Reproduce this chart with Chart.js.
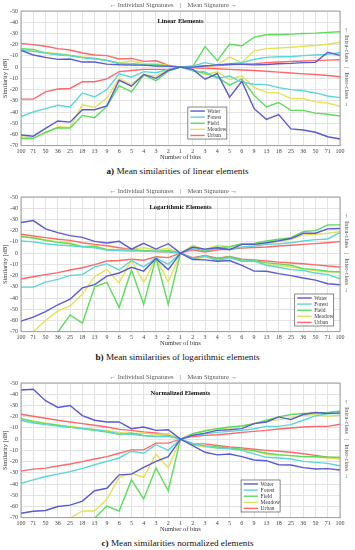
<!DOCTYPE html>
<html>
<head>
<meta charset="utf-8">
<script src="https://cdn.jsdelivr.net/npm/chart.js@4/dist/chart.umd.min.js"></script>
<style>
  body { margin: 0; background: #fff; width: 355px; height: 550px; position: relative; overflow: hidden; font-family: "Liberation Serif", serif; }
  .panel { position: absolute; left: 0; width: 355px; height: 163px; }
  .cap { position: absolute; left: 0; width: 355px; text-align: center; font-size: 9.2px; line-height: 11px; color: #111; }
</style>
</head>
<body>
<div class="panel" style="top:0"><canvas id="linChart"></canvas></div>
<div class="cap" style="top:166px"><b>a)</b> Mean similarities of linear elements</div>
<div class="panel" style="top:186px"><canvas id="logChart"></canvas></div>
<div class="cap" style="top:352px"><b>b)</b> Mean similarities of logarithmic elements</div>
<div class="panel" style="top:372px"><canvas id="normChart"></canvas></div>
<div class="cap" style="top:538px"><b>c)</b> Mean similarities normalized elements</div>
<script>
const bins = ["100", "71", "50", "36", "25", "18", "13", "9", "6", "5", "4", "3", "2", "1",
  "2", "3", "4", "5", "6", "9", "13", "18", "25", "36", "50", "71", "100"];
const classes = ["Water", "Forest", "Field", "Meadow", "Urban"];

// linear elements
const linWaterIntra = [15, 10.8, 8.7, 6.9, 7.2, 4.5, 4.5, 2.7, 2.1, 1.8, 1.8, 0.9, 0.9, 0, 0, 1, 2, 2.5, 2.5, 2, 2.4, 3, 3.3, 4, 4.2, 13.2, 10.5];
const linWaterInter = [-60.5, -61.5, -54.5, -48, -49, -38, -38, -34.5, -11.7, -17, -6.5, -10, -3, 0, -2, -10.8, -5.7, -26.7, -12.6, -37, -46.5, -42.3, -55, -56, -58, -62, -64];
const linForestIntra = [15, 14, 12.5, 11, 10, 8.5, 7.5, 6, 3, 3, 2, 1.5, 1, 0, 1, 4, 2, 3, 4, 7, 8.7, 9.3, 9.3, 10.2, 10.8, 11.4, 13];
const linForestInter = [-44, -40, -37, -34, -35.5, -23, -26.5, -20, -6, -9, -4, -5, -2, 0, -3.3, -4.2, -10, -8, -13.5, -15.3, -15.6, -18.3, -20, -21, -23, -25.7, -27.2];
const linFieldIntra = [16.5, 15.8, 12.5, 11.5, 10.5, 8.5, 7.5, 6, 3.5, 3, 2, 2.2, 1, 0, 0.5, 18.3, 5.7, 20.4, 19, 26.7, 28.8, 29, 29.4, 30, 30.3, 31, 31.5];
const linFieldInter = [-63.6, -63.6, -58, -54, -54.3, -43, -45, -35, -16.5, -22, -7, -12, -3.6, 0, -3, -5.4, -9, -16, -10.5, -25, -35.5, -31.5, -38.5, -38.5, -41, -42, -43.5];
const linMeadowIntra = [16, 14.5, 13, 12, 10.5, 9, 8, 6, 4, 5.5, 3, 3, 1.5, 0, 0.5, 0, 2, 9, 4, 14.5, 16.5, 17, 17.7, 18.6, 19.2, 20.4, 22.2];
const linMeadowInter = [-62, -63, -58.5, -53, -53.7, -33.6, -36, -27.6, -10, -15.6, -6.6, -8, -2.7, 0, -2.4, -6.6, -4.2, -11, -8, -18, -22.5, -23, -28, -28, -31, -32, -35];
const linUrbanIntra = [21, 20, 18.6, 16.5, 15.3, 12.6, 10.8, 10.2, 7.2, 7.8, 5.1, 5.7, 1.8, 0, 0.5, 1, 1.5, 2, 2.5, 3, 4, 4.5, 5, 5.5, 5.8, 6.2, 6.6];
const linUrbanInter = [-28.5, -28.5, -22, -19.5, -19, -13, -13, -10.5, -4, -3, -2, -2, -2, 0, -0.5, -1, -1.5, -2, -2.5, -3, -3.7, -4.5, -5.2, -6, -6.6, -7.4, -8.6];

// logarithmic elements
const logWaterIntra = [27.3, 29, 21.6, 18.3, 15.6, 14, 10.5, 9, 10.5, 3.6, 8.7, 3.6, 8.4, 0, 5.4, 3.6, 4.8, 3, 7.8, 7.8, 9.3, 11, 13, 17.7, 17.7, 21.6, 22];
const logWaterInter = [-60.6, -57, -52.2, -46, -41, -31, -28, -20.5, -17.7, -12.6, -16, -4.8, -14.7, 0, -5.7, -6, -7.2, -6.6, -11, -16, -16.2, -18.3, -20, -22.2, -24, -27.3, -28.2];
const logForestIntra = [10.8, 10, 8.4, 7.2, 6.6, 5.7, 4.8, 2.7, 2.4, 1.8, 1.8, 1.5, 1.2, 0, 4.2, 3, 5.4, 3.3, 5.4, 6.3, 7.8, 8.4, 9.3, 10.8, 12, 12.6, 18.3];
const logForestInter = [-30.3, -30.3, -25.8, -23.4, -19.8, -19.2, -12.3, -9.6, -15, -6.6, -12.3, -4.2, -10, 0, -5, -2.7, -6.6, -4.2, -7.2, -7.2, -10.8, -12.6, -14.7, -15.6, -17.7, -19.2, -22.8];
const logFieldIntra = [14.7, 13.5, 11.4, 9.6, 8.4, 5.7, 6, 3, 2.7, 2.7, 2.4, 1.8, 2.4, 0, 4.8, 1.8, 4.8, 5.7, 8.4, 8.7, 10.8, 12.3, 13.8, 19.2, 20, 25.2, 25.2];
const logFieldInter = [-86, -86, -80, -70.5, -55, -62.4, -30, -26, -48.5, -15, -45.6, -4.2, -45.6, 0, -4.8, -2.7, -5, -3.3, -6, -6.3, -8.7, -9.6, -10.8, -13.8, -14.7, -16.2, -16.8];
const logMeadowIntra = [15.3, 13.8, 12, 10, 9, 6, 6.3, 3.6, 3, 3.6, 4.8, 3, 4.2, 0, 7, 3, 7, 5.7, 7.8, 7.8, 8.7, 10.5, 12.3, 16, 16.8, 17.7, 19];
const logMeadowInter = [-80, -70, -60, -51.5, -47, -36.5, -21, -14.5, -26.5, -6.3, -26.2, -4.2, -25.8, 0, -5.7, -3.3, -6, -4.2, -7.2, -6.6, -10.2, -10.8, -12.3, -14.4, -15.6, -16.8, -16.5];
const logUrbanIntra = [16.8, 15.3, 13.8, 12.3, 11.4, 9.3, 7.8, 6.6, 4.8, 3.3, 1.8, 1.5, 1.2, 0, 3, 1, 3, 3.5, 4.5, 5, 5.5, 6.3, 7, 7.8, 8.5, 9.3, 10.2];
const logUrbanInter = [-23, -21, -19.2, -17.4, -15, -13, -10.2, -7, -6.6, -5.4, -6.3, -3.3, -4, 0, -4, -2, -4.5, -3, -5.5, -6, -7, -8, -8.8, -9.5, -10.5, -11.5, -12.3];

// normalized elements
const normWaterIntra = [43.8, 44.4, 34.2, 28.2, 30, 21, 16.8, 15.3, 15.3, 9.3, 10.8, 7.8, 8.4, 0, 3.3, 5.4, 7.8, 8.4, 9.3, 13.8, 15.3, 19.8, 17.4, 21.9, 23.7, 22.8, 23.4];
const normWaterInter = [-66, -64.2, -63.6, -60, -58.8, -55.2, -46, -43.8, -31.8, -31.2, -25.2, -19.8, -15.6, 0, -5.7, -11.7, -14, -13.2, -15.6, -18.6, -19.2, -22.8, -23, -25.4, -26.6, -26.3, -27.5];
const normForestIntra = [16.8, 14.4, 12.9, 11.7, 10.5, 9.6, 8.4, 6.9, 4.8, 4.2, 3, 2.4, 2.4, 0, 3.3, 4.8, 6, 6.9, 7.8, 9.3, 11.4, 11.4, 12.9, 16.8, 20.7, 22.8, 22.8];
const normForestInter = [-39.3, -36.3, -33.3, -31.2, -29, -26, -22.8, -19.8, -16.8, -10.8, -12.6, -5, -10, 0, -4, -6, -8, -8.5, -10, -13.2, -16.2, -16.8, -17.7, -19.8, -20.7, -21.6, -23.7];
const normFieldIntra = [18.3, 15.6, 13.8, 12.3, 10.8, 9.3, 7.8, 6.3, 4.2, 5.4, 3.3, 2.4, 3, 0, 4.8, 7.2, 9.3, 10.8, 11.7, 13.8, 16.8, 19.8, 21.9, 22.8, 23.4, 23.7, 25];
const normFieldInter = [-86, -86, -86, -86, -86, -80, -70.5, -59.6, -64, -36.3, -53.3, -25.7, -46, 0, -4.5, -6, -7, -7.8, -9, -10.2, -12.6, -13.8, -14.7, -15.6, -15.6, -16.2, -16.2];
const normMeadowIntra = [18.3, 16.2, 14.4, 12.6, 11.4, 10, 8.7, 7.8, 6, 4.8, 5.4, 4.2, 4.8, 0, 4.8, 7.8, 9.3, 9.9, 11.7, 13.8, 15.9, 17.4, 18.9, 21.3, 21.9, 20.4, 21.3];
const normMeadowInter = [-84, -84, -82, -77, -70.5, -64, -64, -53.6, -34, -30.5, -34, -13.5, -25.5, 0, -5, -7, -8, -8.5, -9.3, -10.5, -13.5, -14.4, -14.7, -15.6, -16.2, -16.8, -17.7];
const normUrbanIntra = [22.2, 20.4, 18.6, 16.8, 15.3, 13.8, 12.3, 10.8, 8.7, 7.8, 6.3, 5.4, 3.9, 0, 2.4, 3.3, 3.9, 4.8, 6, 6.9, 7.8, 9, 9.9, 10.8, 11.4, 11.4, 13.2];
const normUrbanInter = [-28.5, -26.7, -25.8, -24, -22.2, -20, -17.7, -15.6, -12.6, -9.6, -9.6, -3.6, -3.6, 0, -4, -4.2, -5.7, -7, -7.8, -9, -10, -10.8, -11.7, -13, -14.5, -16, -16.8];

const colors = ["#5a5ad2", "#5cd6d6", "#5cdc5c", "#e2e258", "#ff6868"];
const serif = "'Liberation Serif', 'DejaVu Serif', serif";

// header, inner title, right label, frame and legend
const deco = {
  id: "deco",
  afterDraw(chart, args, o) {
    const { ctx, chartArea: a } = chart;
    const cx = (a.left + a.right) / 2;
    const y0 = chart.scales.y.getPixelForValue(0);
    ctx.save();
    ctx.strokeStyle = "#8a8a8a";
    ctx.lineWidth = 0.8;
    ctx.strokeRect(a.left, a.top, a.right - a.left, a.bottom - a.top);

    ctx.fillStyle = "#555";
    ctx.font = "6.5px " + serif;
    ctx.textBaseline = "middle";
    ctx.textAlign = "right";
    ctx.fillText("\u2190 Individual Signatures", cx - 7, a.top - 5.5);
    ctx.textAlign = "center";
    ctx.fillText("|", cx, a.top - 5.5);
    ctx.textAlign = "left";
    ctx.fillText("Mean Signature \u2192", cx + 7, a.top - 5.5);

    ctx.save();
    ctx.translate(a.right + 7, y0);
    ctx.rotate(Math.PI / 2);
    ctx.textAlign = "right";
    ctx.fillText("\u2190 Intra-class", -5, 0);
    ctx.textAlign = "center";
    ctx.fillText("|", 0, 0);
    ctx.textAlign = "left";
    ctx.fillText("Inter-class \u2192", 5, 0);
    ctx.restore();

    ctx.fillStyle = "#111";
    ctx.font = "bold 6.5px " + serif;
    ctx.textAlign = "center";
    ctx.fillText(o.title, cx, a.top + 10);

    // legend box inside plot
    const bx = a.left + o.lx * (a.right - a.left);
    const by = a.top + o.ly * (a.bottom - a.top);
    const bw = 39, bh = 32;
    ctx.fillStyle = "#fff";
    ctx.fillRect(bx, by, bw, bh);
    ctx.strokeStyle = "#555";
    ctx.lineWidth = 0.7;
    ctx.strokeRect(bx, by, bw, bh);
    ctx.font = "5.5px " + serif;
    ctx.textAlign = "left";
    classes.forEach((c, k) => {
      const ry = by + 4 + k * 6.1;
      ctx.strokeStyle = colors[k];
      ctx.lineWidth = 1.4;
      ctx.beginPath();
      ctx.moveTo(bx + 2.5, ry);
      ctx.lineTo(bx + 17, ry);
      ctx.stroke();
      ctx.fillStyle = "#333";
      ctx.fillText(c, bx + 19.5, ry + 0.3);
    });
    ctx.restore();
  }
};

function makeChart(id, title, intra, inter, lx, ly) {
  const datasets = [];
  classes.forEach((c, k) => {
    datasets.push({ label: c, data: intra[k], borderColor: colors[k] });
    datasets.push({ label: c + " (inter)", data: inter[k], borderColor: colors[k] });
  });
  new Chart(document.getElementById(id), {
    type: "line",
    data: { labels: bins, datasets: datasets },
    options: {
      responsive: true,
      maintainAspectRatio: false,
      animation: false,
      layout: { padding: { top: 11, right: 15, left: 0, bottom: 0 } },
      elements: {
        line: { borderWidth: 1.4, tension: 0, fill: false },
        point: { radius: 0 }
      },
      plugins: {
        legend: { display: false },
        tooltip: { enabled: false },
        deco: { title: title, lx: lx, ly: ly }
      },
      scales: {
        x: {
          grid: { color: "#e3e3e3", drawTicks: false },
          border: { display: false },
          ticks: { autoSkip: false, maxRotation: 0, padding: 2, color: "#444", font: { family: serif, size: 6 } },
          title: { display: true, text: "Number of bins", color: "#333", font: { family: serif, size: 6.5 }, padding: { top: 0, bottom: 2 } },
          afterFit: (s) => { s.height = 17.3; }
        },
        y: {
          min: -70,
          max: 50,
          grid: { color: "#e3e3e3", drawTicks: false },
          border: { display: false },
          ticks: {
            stepSize: 10,
            padding: 3,
            color: "#444",
            font: { family: serif, size: 6 },
            callback: (v) => (v === 0 ? "0" : "-" + Math.abs(v))
          },
          title: { display: true, text: "Similarity [dB]", color: "#333", font: { family: serif, size: 6.5 }, padding: { top: 1, bottom: 0 } },
          afterFit: (s) => { s.width = 21; }
        }
      }
    },
    plugins: [deco]
  });
}

makeChart("linChart", "Linear Elements",
  [linWaterIntra, linForestIntra, linFieldIntra, linMeadowIntra, linUrbanIntra],
  [linWaterInter, linForestInter, linFieldInter, linMeadowInter, linUrbanInter], 0.523, 0.713);
makeChart("logChart", "Logarithmic Elements",
  [logWaterIntra, logForestIntra, logFieldIntra, logMeadowIntra, logUrbanIntra],
  [logWaterInter, logForestInter, logFieldInter, logMeadowInter, logUrbanInter], 0.858, 0.72);
makeChart("normChart", "Normalized Elements",
  [normWaterIntra, normForestIntra, normFieldIntra, normMeadowIntra, normUrbanIntra],
  [normWaterInter, normForestInter, normFieldInter, normMeadowInter, normUrbanInter], 0.69, 0.72);
</script>
</body>
</html>
